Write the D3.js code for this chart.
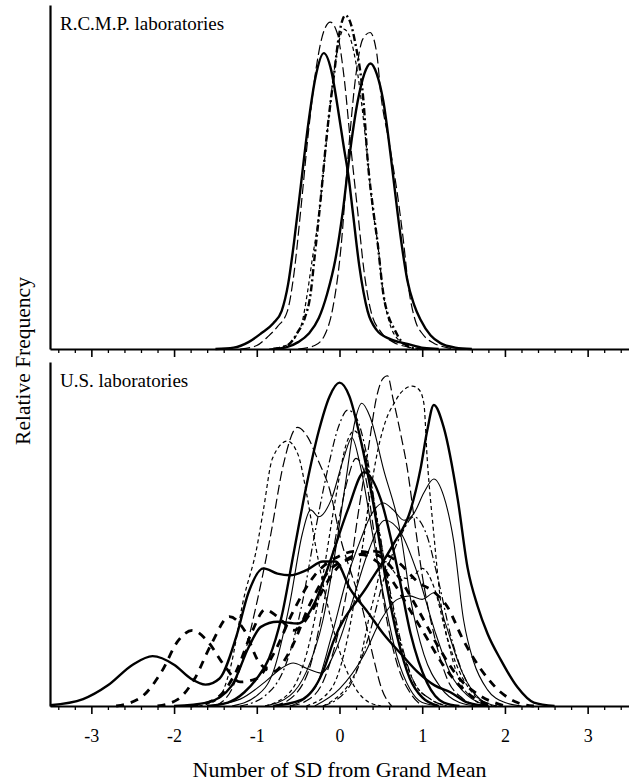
<!DOCTYPE html>
<html>
<head>
<meta charset="utf-8">
<script src="https://cdn.jsdelivr.net/npm/d3@7/dist/d3.min.js"></script>
<style>
  html, body { margin: 0; padding: 0; background: #fff; }
  svg { display: block; }
  text { font-family: "Liberation Serif", "Times New Roman", serif; fill: #000; }
</style>
</head>
<body>
<svg id="chart" width="629" height="783"></svg>
<script>
// ---- axis labels and ticks ----
const xMajorTicks = [-3, -2, -1, 0, 1, 2, 3];
const xTickLabels = ["-3", "-2", "-1", "0", "1", "2", "3"];
const panelTitles = ["R.C.M.P. laboratories", "U.S. laboratories"];
const xTitle = "Number of SD from Grand Mean";
const yTitle = "Relative Frequency";

// ---- R.C.M.P. laboratories: density curves as [SD from grand mean, relative frequency] ----
const rcmpLabA = [[-1.5,0],[-1.28,.004],[-1.1,.02],[-0.95,.045],[-0.8,.075],[-0.7,.11],[-0.62,.19],[-0.55,.31],[-0.47,.47],[-0.38,.65],[-0.29,.79],[-0.19,.86],[-0.1,.81],[-0.02,.70],[0.05,.59],[0.11,.50],[0.16,.40],[0.24,.24],[0.34,.11],[0.45,.055],[0.6,.03],[0.82,.015],[1.02,.003],[1.2,0]];
const rcmpLabB = [[-0.8,0],[-0.63,.006],[-0.5,.02],[-0.37,.045],[-0.25,.09],[-0.15,.16],[-0.05,.26],[0.04,.40],[0.12,.56],[0.22,.72],[0.3,.80],[0.375,.83],[0.45,.80],[0.53,.72],[0.62,.56],[0.70,.40],[0.76,.29],[0.82,.20],[0.9,.13],[0.98,.085],[1.1,.04],[1.22,.017],[1.4,.004],[1.6,0]];
const rcmpLabC = [[-1.2,0],[-1.0,.01],[-0.87,.035],[-0.75,.065],[-0.63,.11],[-0.55,.22],[-0.47,.40],[-0.38,.62],[-0.28,.82],[-0.18,.93],[-0.11,.95],[-0.03,.92],[0.06,.78],[0.14,.58],[0.22,.40],[0.3,.22],[0.38,.11],[0.5,.05],[0.65,.02],[0.85,.005],[1.0,0]];
const rcmpLabD = [[-0.8,0],[-0.62,.012],[-0.51,.047],[-0.42,.09],[-0.35,.16],[-0.3,.27],[-0.23,.43],[-0.15,.63],[-0.07,.79],[0,.92],[0.07,.97],[0.13,.95],[0.19,.89],[0.29,.72],[0.34,.55],[0.41,.40],[0.46,.31],[0.53,.16],[0.6,.09],[0.65,.064],[0.77,.017],[0.95,0]];
const rcmpLabE = [[-0.85,0],[-0.65,.01],[-0.52,.04],[-0.45,.08],[-0.39,.16],[-0.33,.26],[-0.26,.37],[-0.18,.55],[-0.08,.78],[0,.9],[0.05,.93],[0.12,.91],[0.22,.8],[0.32,.6],[0.4,.41],[0.46,.31],[0.53,.16],[0.6,.08],[0.74,.02],[0.9,0]];
const rcmpLabF = [[-0.5,0],[-0.3,.01],[-0.18,.04],[-0.08,.12],[0.02,.3],[0.1,.55],[0.2,.8],[0.28,.9],[0.37,.92],[0.45,.86],[0.5,.74],[0.6,.6],[0.7,.45],[0.77,.32],[0.84,.17],[0.92,.08],[1.0,.045],[1.14,.017],[1.3,.004],[1.45,0]];

// ---- U.S. laboratories ----
const usLab01 = [[-1.6,0],[-1.35,.01],[-1.15,.04],[-1.0,.08],[-0.85,.14],[-0.7,.26],[-0.55,.45],[-0.4,.64],[-0.25,.8],[-0.12,.9],[0,.94],[0.12,.9],[0.25,.78],[0.4,.6],[0.55,.38],[0.7,.2],[0.85,.08],[1.0,.025],[1.2,0]];
const usLab02 = [[-0.8,0],[-0.47,.017],[-0.2,.1],[-0.07,.19],[0.34,.35],[0.65,.47],[0.86,.57],[0.98,.69],[1.06,.8],[1.14,.875],[1.26,.81],[1.43,.6],[1.55,.4],[1.67,.29],[1.79,.21],[1.95,.134],[2.15,.055],[2.35,.01],[2.6,0]];
const usLab03 = [[-2.0,0],[-1.6,.01],[-1.3,.06],[-1.1,.17],[-0.95,.23],[-0.75,.245],[-0.5,.24],[-0.3,.3],[-0.1,.43],[0.1,.57],[0.3,.68],[0.5,.6],[0.7,.4],[0.86,.21],[1.06,.067],[1.26,.01],[1.45,0]];
const usLab04 = [[-3.5,.002],[-3.1,.02],[-2.8,.06],[-2.5,.12],[-2.26,.145],[-2.0,.12],[-1.8,.08],[-1.62,.062],[-1.45,.08],[-1.25,.2],[-1.1,.33],[-0.92,.40],[-0.75,.385],[-0.6,.38],[-0.4,.395],[-0.2,.42],[-0.05,.42],[0.13,.34],[0.35,.27],[0.53,.21],[0.75,.15],[0.94,.1],[1.15,.06],[1.34,.04],[1.55,.01],[1.8,0]];
const usLab05 = [[-0.9,0],[-0.6,.03],[-0.4,.1],[-0.2,.25],[-0.05,.45],[0.08,.66],[0.18,.82],[0.27,.88],[0.37,.84],[0.53,.69],[0.74,.5],[0.86,.31],[1.02,.15],[1.22,.055],[1.45,.01],[1.65,0]];
const usLab06 = [[-0.6,0],[-0.3,.05],[-0.1,.2],[0.1,.38],[0.25,.48],[0.37,.55],[0.53,.59],[0.65,.57],[0.78,.54],[0.9,.56],[1.02,.62],[1.14,.66],[1.26,.61],[1.38,.48],[1.5,.25],[1.62,.13],[1.79,.047],[2.0,.01],[2.2,0]];
const usLab07 = [[-0.3,0],[0,.05],[0.3,.15],[0.5,.25],[0.7,.31],[0.85,.32],[1.0,.31],[1.15,.33],[1.28,.24],[1.48,.1],[1.7,.02],[1.9,0]];
const usLab08 = [[-1.6,0],[-1.2,.02],[-0.9,.07],[-0.7,.11],[-0.56,.125],[-0.4,.11],[-0.22,.096],[-0.05,.16],[0.15,.3],[0.35,.45],[0.55,.54],[0.75,.5],[0.95,.38],[1.15,.22],[1.35,.09],[1.55,.03],[1.8,0]];
const usLab09 = [[-1.3,0],[-1.0,.03],[-0.8,.1],[-0.6,.3],[-0.45,.5],[-0.35,.57],[-0.25,.55],[-0.1,.6],[0.05,.72],[0.15,.78],[0.25,.7],[0.4,.5],[0.55,.3],[0.7,.14],[0.85,.05],[1.0,.01],[1.2,0]];
const usLab10 = [[-2.7,0],[-2.4,.025],[-2.15,.1],[-1.95,.19],[-1.78,.22],[-1.6,.19],[-1.4,.12],[-1.2,.07],[-1.0,.08],[-0.8,.15],[-0.55,.28],[-0.3,.38],[-0.05,.43],[0.2,.45],[0.45,.44],[0.7,.38],[0.95,.28],[1.2,.17],[1.45,.08],[1.7,.03],[2.0,0]];
const usLab11 = [[-2.2,0],[-1.95,.02],[-1.75,.08],[-1.55,.18],[-1.33,.26],[-1.15,.22],[-0.98,.13],[-0.8,.1],[-0.6,.16],[-0.35,.3],[-0.1,.4],[0.15,.43],[0.4,.45],[0.7,.42],[0.95,.36],[1.15,.33],[1.3,.29],[1.5,.19],[1.7,.11],[1.95,.04],[2.15,.01],[2.35,0]];
const usLab12 = [[-1.8,0],[-1.5,.02],[-1.25,.1],[-1.05,.22],[-0.9,.28],[-0.75,.26],[-0.55,.22],[-0.35,.27],[-0.15,.36],[0.05,.42],[0.25,.44],[0.45,.42],[0.65,.36],[0.85,.28],[1.05,.2],[1.25,.12],[1.45,.06],[1.65,.02],[1.9,0]];
const usLab13 = [[-1.7,0],[-1.47,.02],[-1.32,.11],[-1.16,.31],[-1.0,.46],[-0.92,.57],[-0.81,.72],[-0.63,.77],[-0.5,.73],[-0.4,.62],[-0.3,.48],[-0.15,.3],[0,.16],[0.15,.07],[0.3,.02],[0.5,0]];
const usLab14 = [[-1.5,0],[-1.3,.05],[-1.15,.15],[-1.0,.3],[-0.83,.5],[-0.68,.7],[-0.51,.81],[-0.38,.78],[-0.27,.72],[-0.12,.63],[0.02,.48],[0.15,.38],[0.27,.29],[0.41,.14],[0.51,.05],[0.63,0]];
const usLab15 = [[-0.6,0],[-0.4,.015],[-0.2,.07],[-0.05,.18],[0.1,.35],[0.22,.55],[0.35,.75],[0.45,.9],[0.52,.95],[0.58,.96],[0.65,.89],[0.74,.79],[0.82,.69],[0.9,.55],[1.0,.38],[1.15,.2],[1.3,.08],[1.5,.02],[1.7,0]];
const usLab16 = [[-0.4,0],[-0.1,.05],[0.1,.2],[0.27,.45],[0.36,.6],[0.46,.74],[0.56,.83],[0.66,.88],[0.74,.91],[0.88,.93],[0.96,.92],[1.02,.88],[1.06,.72],[1.14,.5],[1.22,.31],[1.34,.16],[1.46,.07],[1.62,.02],[1.8,0]];
const usLab17 = [[-1.2,0],[-0.9,.03],[-0.65,.12],[-0.45,.3],[-0.3,.5],[-0.15,.68],[0,.82],[0.1,.86],[0.2,.84],[0.32,.74],[0.45,.55],[0.6,.35],[0.75,.18],[0.9,.07],[1.1,.02],[1.3,0]];
const usLab18 = [[-0.9,0],[-0.6,.04],[-0.4,.15],[-0.2,.38],[-0.05,.6],[0.08,.76],[0.18,.8],[0.3,.74],[0.45,.55],[0.6,.34],[0.75,.17],[0.9,.07],[1.1,.02],[1.3,0]];
const usLab19 = [[-0.2,0],[0.1,.05],[0.35,.2],[0.55,.38],[0.75,.5],[0.9,.55],[1.05,.5],[1.2,.36],[1.35,.2],[1.5,.09],[1.65,.03],[1.85,0]];
const usLab20 = [[-0.2,0],[0.2,.1],[0.4,.3],[0.55,.42],[0.7,.38],[0.85,.37],[1.0,.4],[1.15,.34],[1.3,.2],[1.45,.1],[1.6,.04],[1.8,0]];
const usLab21 = [[-0.8,0],[-0.55,.03],[-0.35,.12],[-0.15,.35],[0,.55],[0.1,.66],[0.2,.72],[0.3,.68],[0.42,.5],[0.55,.28],[0.7,.12],[0.85,.04],[1.0,0]];

const rcmpCurves = [rcmpLabA, rcmpLabB, rcmpLabC, rcmpLabD, rcmpLabE, rcmpLabF];
const usCurves = [usLab01, usLab02, usLab03, usLab04, usLab05, usLab06, usLab07, usLab08, usLab09,
                  usLab10, usLab11, usLab12, usLab13, usLab14, usLab15, usLab16, usLab17, usLab18,
                  usLab19, usLab20, usLab21];

// ---- line styles, one per laboratory curve ----
const rcmpStyleKeys = ["thick", "thick", "longDash", "heavyDashDot", "fineDash", "longDash"];
const usStyleKeys = ["thick", "thick", "thick", "thick", "thin", "thin", "thin", "thin", "thin",
                     "heavyDash", "heavyDash", "heavyDash", "fineDash", "longDash", "longDash",
                     "fineDash", "dashDot", "fineDash", "dashDot", "fineDash", "longDash"];
const lineStyles = {
  thick:        { width: 2.4, dash: null },
  thin:         { width: 1.1, dash: null },
  heavyDash:    { width: 2.8, dash: "8,7" },
  heavyDashDot: { width: 2.4, dash: "7,3,2,3" },
  longDash:     { width: 1.2, dash: "10,4" },
  fineDash:     { width: 1.2, dash: "4,3" },
  dashDot:      { width: 1.2, dash: "8,3,2,3" }
};

// ---- layout ----
const svg = d3.select("#chart");
const plotLeft = 50, plotRight = 629;
const panels = [
  { top: 5,   bottom: 349, curves: rcmpCurves, styles: rcmpStyleKeys, title: panelTitles[0], labels: false },
  { top: 362, bottom: 706, curves: usCurves,   styles: usStyleKeys,   title: panelTitles[1], labels: true }
];

const x = d3.scaleLinear().domain([-3.5, 3.5]).range([plotLeft, plotRight]);
const minorTicks = d3.range(-34, 35, 2).map(v => v / 10).filter(v => !xMajorTicks.includes(v));

panels.forEach(p => {
  const y = d3.scaleLinear().domain([0, 1]).range([p.bottom, p.top]);
  const g = svg.append("g");

  const line = d3.line()
    .x(d => x(d[0]))
    .y(d => y(d[1]))
    .curve(d3.curveMonotoneX);

  g.selectAll("path.lab")
    .data(p.curves)
    .join("path")
    .attr("class", "lab")
    .attr("d", line)
    .attr("fill", "none")
    .attr("stroke", "#000")
    .attr("stroke-linejoin", "round")
    .attr("stroke-width", (d, i) => lineStyles[p.styles[i]].width)
    .attr("stroke-dasharray", (d, i) => lineStyles[p.styles[i]].dash);

  // minor ticks
  const minorAxis = g.append("g")
    .attr("transform", `translate(0,${p.bottom})`)
    .call(d3.axisBottom(x).tickValues(minorTicks).tickSize(4).tickSizeOuter(0).tickFormat(""));
  minorAxis.select(".domain").remove();
  minorAxis.selectAll("line").attr("stroke-width", 1.3);

  // major ticks with labels
  const majorAxis = g.append("g")
    .attr("transform", `translate(0,${p.bottom})`)
    .call(d3.axisBottom(x).tickValues(xMajorTicks).tickSize(8).tickSizeOuter(0).tickPadding(15)
      .tickFormat((d, i) => p.labels ? xTickLabels[i] : ""));
  majorAxis.select(".domain").attr("stroke-width", 2.2);
  majorAxis.selectAll("line").attr("stroke-width", 1.6);
  majorAxis.selectAll("text")
    .style("font-family", '"Liberation Serif", "Times New Roman", serif')
    .style("font-size", "18px");

  // vertical axis line
  const yAxis = g.append("g")
    .attr("transform", `translate(${plotLeft},0)`)
    .call(d3.axisLeft(y).tickValues([]).tickSizeOuter(0));
  yAxis.select(".domain").attr("stroke-width", 2.2);

  g.append("text")
    .attr("x", 60)
    .attr("y", p.top + 25)
    .style("font-size", "19px")
    .text(p.title);
});

svg.append("text")
  .attr("x", x(0))
  .attr("y", 777)
  .attr("text-anchor", "middle")
  .style("font-size", "22px")
  .text(xTitle);

svg.append("text")
  .attr("transform", "translate(30,361) rotate(-90)")
  .attr("text-anchor", "middle")
  .style("font-size", "21.5px")
  .text(yTitle);
</script>
</body>
</html>
